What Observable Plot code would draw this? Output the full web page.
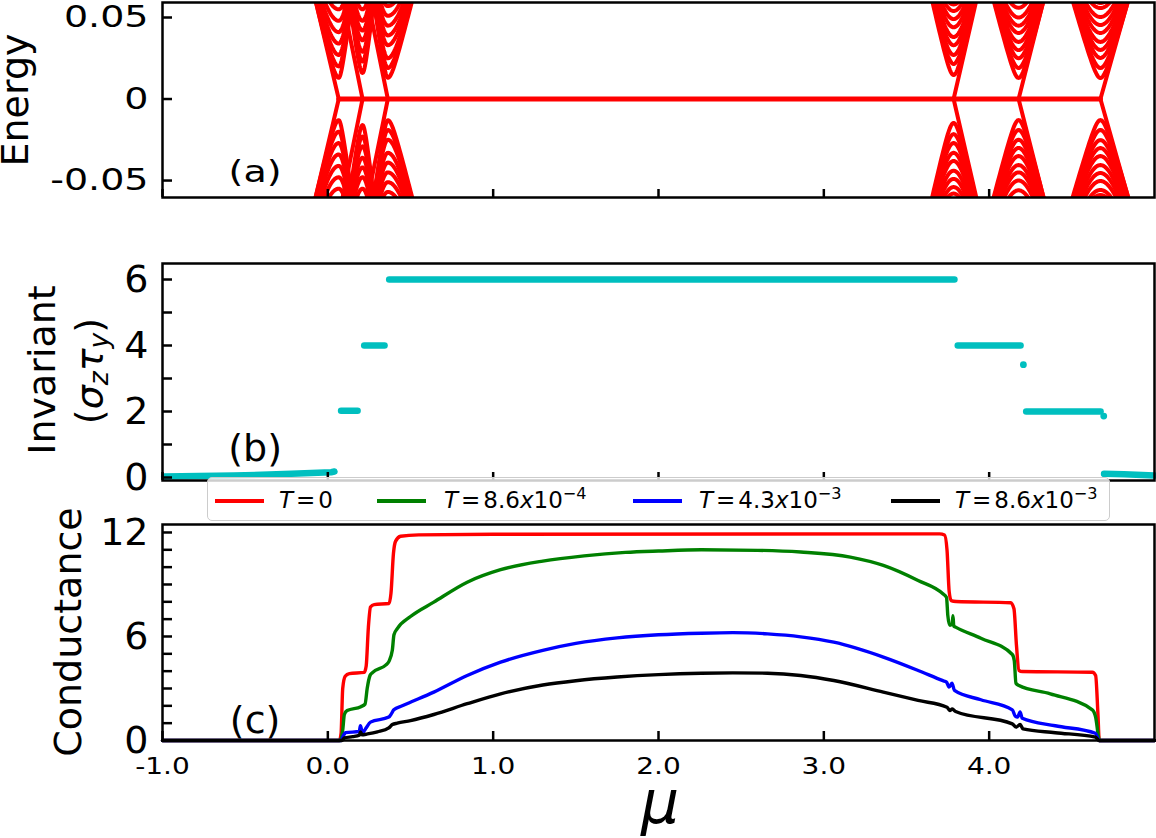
<!DOCTYPE html>
<html><head><meta charset="utf-8">
<script src="https://cdn.jsdelivr.net/npm/d3@7"></script>
<script src="https://cdn.jsdelivr.net/npm/@observablehq/plot@0.6"></script>
<style>
body{margin:0;background:#fff;}
#wrap{position:relative;width:1156px;height:838px;font-family:"DejaVu Sans";color:#000;overflow:hidden;}
#wrap svg{position:absolute;left:0;overflow:visible;}
.rot{position:absolute;white-space:nowrap;font-size:38px;line-height:0.76;transform:translate(-50%,-50%) rotate(-90deg);}
.rot sub{font-size:0.7em;vertical-align:-0.25em;line-height:0;}
#legend{position:absolute;left:207px;top:477px;width:903px;height:44px;box-sizing:border-box;border:1.5px solid #cccccc;border-radius:5px;background:rgba(255,255,255,0.8);}
.lh{position:absolute;top:20.5px;height:4px;width:49px;}
.lt{position:absolute;top:10.5px;font-size:23px;line-height:1;white-space:nowrap;}
.lt i{font-style:italic;}
.lt .eq{margin:0 3px;}
.lt sup{font-size:0.7em;vertical-align:0.55em;line-height:0;}
#mu{position:absolute;left:660px;top:784px;transform:translateX(-50%);font-size:60px;line-height:0.6;font-style:italic;}
</style></head>
<body><div id="wrap"></div>
<script>
// ---------- shared x axis ----------
const xTicks = [-1, 0, 1, 2, 3, 4];
const xTickLabels = ["-1.0", "0.0", "1.0", "2.0", "3.0", "4.0"];

// ---------- panel (a): BdG spectrum ----------
const energyTicks = [-0.05, 0, 0.05];
const energyTickLabels = ["-0.05", "0", "0.05"];
const fanMu = [0.066, 0.21, 0.363, 3.785, 4.178, 4.673];          // gap closing points
const fanSlopeLeft = [0.42, 0.72, 0.68, 0.45, 0.39, 0.35];
const fanSlopeRight = [0.72, 0.85, 0.40, 0.45, 0.39, 0.35];
const fanBranchSide = [-1, -1, -1, 1, 1, 1];
const fanBranchSlope = [0.43, 0.5, 0.5, 0.44, 0.40, 0.36];
const fanLevels = [
  [0.013, 0.020, 0.027, 0.034, 0.041, 0.048, 0.055],
  [0.016, 0.023, 0.029, 0.036, 0.042, 0.048, 0.055],
  [0.013, 0.019, 0.025, 0.033, 0.039, 0.045, 0.051, 0.057],
  [0.0147, 0.0215, 0.027, 0.033, 0.038, 0.044, 0.049, 0.054, 0.058],
  [0.0129, 0.019, 0.025, 0.030, 0.035, 0.0405, 0.045, 0.050, 0.056],
  [0.0129, 0.019, 0.0252, 0.0301, 0.035, 0.0405, 0.0454, 0.0503, 0.0558, 0.0589]
];
const zeroModeMu = [0.066, 4.673];

// ---------- panel (b): invariant ----------
const invTicks = [0, 1, 2, 3, 4, 5, 6];
const invTickValues = [0, 2, 4, 6];
const invTickLabels = ["0", "2", "4", "6"];
const invTailLeftMu = [-0.99, -0.57, -0.22, 0.02, 0.04];
const invTailLeftVal = [0.03, 0.06, 0.11, 0.16, 0.18];
const invPlateauStart = [0.08, 0.22, 0.371, 3.81, 4.224];
const invPlateauEnd = [0.18, 0.343, 3.79, 4.19, 4.674];
const invPlateauVal = [2.02, 4.0, 6.0, 4.0, 2.0];
const invDotMu = [4.207, 4.693];
const invDotVal = [3.42, 1.86];
const invTailRightMu = [4.695, 4.815, 5.0];
const invTailRightVal = [0.11, 0.1, 0.06];

// ---------- panel (c): conductance ----------
const condTicks = [0,1,2,3,4,5,6,7,8,9,10,11,12];
const condTickValues = [0, 6, 12];
const condTickLabels = ["0", "6", "12"];
const seriesNames = ["T=0", "T=8.6x10^-4", "T=4.3x10^-3", "T=8.6x10^-3"];
const seriesColors = ["#ff0000", "#008000", "#0000ff", "#000000"];
const condT0 = [[-1,0],[0.07,0],[0.08,0.4],[0.09,3.0],[0.105,3.7],[0.13,3.86],[0.22,3.93],[0.232,4.3],[0.245,6.5],[0.258,7.7],[0.28,7.84],[0.37,7.9],[0.382,8.5],[0.397,10.8],[0.41,11.5],[0.44,11.78],[0.55,11.86],[1.0,11.9],[3.7,11.92],[3.73,11.85],[3.745,11.0],[3.758,8.6],[3.77,8.07],[3.8,8.02],[4.13,7.95],[4.15,7.6],[4.165,5.5],[4.18,4.05],[4.2,3.98],[4.624,3.94],[4.644,3.75],[4.658,1.5],[4.666,0],[5,0]];
const condT1 = [[-1,0],[0.075,0],[0.09,0.6],[0.1,1.5],[0.117,1.73],[0.2,1.95],[0.225,2.1],[0.238,3.0],[0.255,3.75],[0.27,3.92],[0.35,4.35],[0.369,4.55],[0.39,5.2],[0.4,6.1],[0.42,6.45],[0.5,7.15],[0.641,7.98],[0.843,9.13],[1.045,9.85],[1.3,10.35],[1.55,10.65],[1.8,10.85],[2.0,10.93],[2.26,11.0],[2.6,10.97],[2.86,10.87],[3.16,10.58],[3.36,10.1],[3.57,9.23],[3.72,8.46],[3.742,8.25],[3.75,7.2],[3.762,6.64],[3.776,6.7],[3.781,7.2],[3.786,6.6],[3.797,6.54],[3.95,5.9],[4.14,4.96],[4.152,4.6],[4.162,3.3],[4.18,3.17],[4.37,2.69],[4.624,1.77],[4.644,1.35],[4.66,0.3],[4.666,0],[5,0]];
const condT2 = [[-1,0],[0.08,0],[0.095,0.3],[0.107,0.45],[0.19,0.52],[0.197,0.85],[0.205,0.6],[0.215,0.5],[0.23,0.7],[0.258,1.06],[0.369,1.35],[0.385,1.55],[0.399,1.77],[0.45,2.0],[0.641,2.79],[0.843,3.75],[1.045,4.52],[1.3,5.2],[1.5,5.6],[1.75,5.92],[2.0,6.1],[2.26,6.19],[2.45,6.22],[2.66,6.15],[2.86,5.98],[3.06,5.67],[3.36,4.81],[3.57,4.04],[3.72,3.45],[3.742,3.37],[3.757,3.08],[3.775,3.3],[3.79,2.89],[3.95,2.35],[4.14,1.77],[4.158,1.4],[4.172,1.35],[4.187,1.65],[4.2,1.28],[4.4,0.85],[4.643,0.42],[4.665,0],[5,0]];
const condT3 = [[-1,0],[0.085,0],[0.1,0.15],[0.15,0.22],[0.19,0.3],[0.198,0.5],[0.206,0.33],[0.24,0.38],[0.3,0.5],[0.369,0.73],[0.39,0.92],[0.42,1.0],[0.5,1.15],[0.641,1.5],[0.843,2.12],[1.045,2.69],[1.3,3.2],[1.5,3.45],[1.75,3.66],[2.0,3.8],[2.26,3.88],[2.45,3.9],[2.66,3.88],[2.86,3.75],[3.06,3.46],[3.36,2.79],[3.57,2.31],[3.745,1.92],[3.762,1.73],[3.777,1.82],[3.797,1.67],[4.14,0.96],[4.163,0.77],[4.187,0.92],[4.205,0.67],[4.4,0.45],[4.643,0.19],[4.665,0],[5,0]];

const panelLabels = ["(a)", "(b)", "(c)"];
const panelLabelMu = [-0.44, -0.44, -0.44];
const panelLabelY = [-0.0448, 0.88, 1.15];

// ---------- build tables ----------
const Emax = 0.064;
const arcRows = [];
fanMu.forEach((mc, f) => {
  const sl = fanSlopeLeft[f], sr = fanSlopeRight[f];
  fanLevels[f].forEach((e, k) => {
    const reach = Math.sqrt(Emax * Emax - e * e);
    for (const sgn of [1, -1]) {
      const id = f + "-" + k + "-" + sgn;
      const N = 24;
      for (let j = -N; j <= N; j++) {
        const s = j < 0 ? sl : sr;
        const d = (j / N) * reach / s;
        arcRows.push({id, mu: mc + d, E: sgn * Math.sqrt(e * e + (s * d) * (s * d))});
      }
    }
  });
});
const branchRows = [];
fanMu.forEach((mc, f) => {
  for (const sgn of [1, -1]) {
    const id = "b" + f + sgn;
    branchRows.push({id, mu: mc, E: 0});
    branchRows.push({id, mu: mc + fanBranchSide[f] * Emax / fanBranchSlope[f], E: sgn * Emax});
  }
});
const zeroRows = zeroModeMu.map(m => ({mu: m, E: 0}));

const invRows = [];
invTailLeftMu.forEach((m, i) => invRows.push({seg: "L", mu: m, v: invTailLeftVal[i]}));
invPlateauStart.forEach((m, i) => {
  invRows.push({seg: "P" + i, mu: m, v: invPlateauVal[i]});
  invRows.push({seg: "P" + i, mu: invPlateauEnd[i], v: invPlateauVal[i]});
});
invTailRightMu.forEach((m, i) => invRows.push({seg: "R", mu: m, v: invTailRightVal[i]}));
const invDots = invDotMu.map((m, i) => ({mu: m, v: invDotVal[i]}));

const condRows = [];
[condT0, condT1, condT2, condT3].forEach((arr, s) => arr.forEach(([m, g]) => condRows.push({series: seriesNames[s], mu: m, G: g})));

// ---------- plotting ----------
const wrap = document.getElementById("wrap");
const W = 1156, ML = 162, MR = 2;
const FW = W - ML - MR;
const baseStyle = {fontFamily: "DejaVu Sans", background: "transparent", overflow: "visible", color: "black"};
const tickCommon = {stroke: "black", strokeWidth: 2.5};

function place(svg, top) { svg.style.top = top + "px"; wrap.appendChild(svg); return svg; }
function squash(svg, labels, k) {
  d3.select(svg).selectAll("text").filter(function () { return labels.includes(this.textContent); })
    .attr("transform", function () { return (this.getAttribute("transform") || "") + " scale(1," + k + ")"; });
}

// panel (a)
const hA = 200, mtA = 2, mbA = 3;
const plotA = Plot.plot({
  width: W, height: hA, marginLeft: ML, marginRight: MR, marginTop: mtA, marginBottom: mbA,
  style: baseStyle,
  x: {domain: [-1, 5], axis: null},
  y: {domain: [-0.0604, 0.0592], axis: null},
  marks: [
    Plot.line(arcRows, {x: "mu", y: "E", z: "id", stroke: "#ff0000", strokeWidth: 4, clip: true}),
    Plot.line(branchRows, {x: "mu", y: "E", z: "id", stroke: "#ff0000", strokeWidth: 4, clip: true}),
    Plot.line(zeroRows, {x: "mu", y: "E", stroke: "#ff0000", strokeWidth: 5}),
    Plot.frame({stroke: "black", strokeWidth: 2.5}),
    Plot.tickY(energyTicks, {y: d => d, insetRight: FW - 10, ...tickCommon}),
    Plot.tickX(xTicks, {x: d => d, insetTop: (hA - mtA - mbA) - 8, ...tickCommon}),
    Plot.text(energyTicks, {y: d => d, text: (d, i) => energyTickLabels[i], frameAnchor: "left", textAnchor: "end", dx: -14, fontSize: 38}),
    Plot.text([0], {x: () => panelLabelMu[0], y: () => panelLabelY[0], text: () => panelLabels[0], fontSize: 38})
  ]
});
place(plotA, 0);
squash(plotA, energyTickLabels.concat(["(a)"]), 0.8);

// panel (b)
const hB = 240, mtB = 13, mbB = 10;
const plotB = Plot.plot({
  width: W, height: hB, marginLeft: ML, marginRight: MR, marginTop: mtB, marginBottom: mbB,
  style: baseStyle,
  x: {domain: [-1, 5], axis: null},
  y: {domain: [-0.091, 6.485], axis: null},
  marks: [
    Plot.line(invRows, {x: "mu", y: "v", z: "seg", stroke: "#00bfbf", strokeWidth: 6.5, strokeLinecap: "round", strokeLinejoin: "round"}),
    Plot.dot(invDots, {x: "mu", y: "v", r: 3.4, fill: "#00bfbf", stroke: "none"}),
    Plot.frame({stroke: "black", strokeWidth: 2.5}),
    Plot.tickY(invTicks, {y: d => d, insetRight: FW - 10, ...tickCommon}),
    Plot.tickX(xTicks, {x: d => d, insetTop: (hB - mtB - mbB) - 8, ...tickCommon}),
    Plot.text(invTickValues, {y: d => d, text: (d, i) => invTickLabels[i], frameAnchor: "left", textAnchor: "end", dx: -14, fontSize: 38}),
    Plot.text([0], {x: () => panelLabelMu[1], y: () => panelLabelY[1], text: () => panelLabels[1], fontSize: 38})
  ]
});
place(plotB, 250);

// panel (c)
const hC = 328, mtC = 14, mbC = 98;
const plotC = Plot.plot({
  width: W, height: hC, marginLeft: ML, marginRight: MR, marginTop: mtC, marginBottom: mbC,
  style: baseStyle,
  x: {domain: [-1, 5], axis: null},
  y: {domain: [0, 12.46], axis: null},
  color: {domain: seriesNames, range: seriesColors},
  marks: [
    Plot.line(condRows, {x: "mu", y: "G", z: "series", stroke: "series", strokeWidth: 3.4, strokeLinejoin: "round", curve: "monotone-x"}),
    Plot.frame({stroke: "black", strokeWidth: 2.5}),
    Plot.tickY(condTicks, {y: d => d, insetRight: FW - 10, ...tickCommon}),
    Plot.tickX(xTicks, {x: d => d, insetTop: (hC - mtC - mbC) - 9, ...tickCommon}),
    Plot.text(condTickValues, {y: d => d, text: (d, i) => condTickLabels[i], frameAnchor: "left", textAnchor: "end", dx: -14, fontSize: 38}),
    Plot.text(xTicks, {x: d => d, text: (d, i) => xTickLabels[i], frameAnchor: "bottom", lineAnchor: "top", dy: 17, fontSize: 28}),
    Plot.text([0], {x: () => panelLabelMu[2], y: () => panelLabelY[2], text: () => panelLabels[2], fontSize: 38})
  ]
});
place(plotC, 510);
squash(plotC, xTickLabels, 0.82);

// axis labels (HTML overlays)
function addHTML(html, cls, style) {
  const d = document.createElement("div");
  d.className = cls; d.innerHTML = html; Object.assign(d.style, style); wrap.appendChild(d); return d;
}
addHTML("Energy", "rot", {left: "15px", top: "100px"});
addHTML("Invariant", "rot", {left: "42px", top: "370px"});
addHTML("(<i>σ</i><sub><i>z</i></sub><i>τ</i><sub><i>y</i></sub>)", "rot", {left: "89px", top: "371px"});
addHTML("Conductance", "rot", {left: "68px", top: "632px"});
addHTML("μ", "", {}).id = "mu";

// legend
const legend = addHTML("", "", {}); legend.id = "legend";
const legendHtml = [
  "<i>T</i><span class='eq'>=</span>0",
  "<i>T</i><span class='eq'>=</span>8.6<i>x</i>10<sup>−4</sup>",
  "<i>T</i><span class='eq'>=</span>4.3<i>x</i>10<sup>−3</sup>",
  "<i>T</i><span class='eq'>=</span>8.6<i>x</i>10<sup>−3</sup>"
];
const legendHandleX = [7, 169, 425, 683];
const legendTextX = [71, 236, 491, 747];
seriesNames.forEach((s, i) => {
  const h = document.createElement("div"); h.className = "lh";
  h.style.left = legendHandleX[i] + "px"; h.style.background = seriesColors[i]; legend.appendChild(h);
  const t = document.createElement("div"); t.className = "lt";
  t.style.left = legendTextX[i] + "px"; t.innerHTML = legendHtml[i]; legend.appendChild(t);
});
</script>
</body></html>
